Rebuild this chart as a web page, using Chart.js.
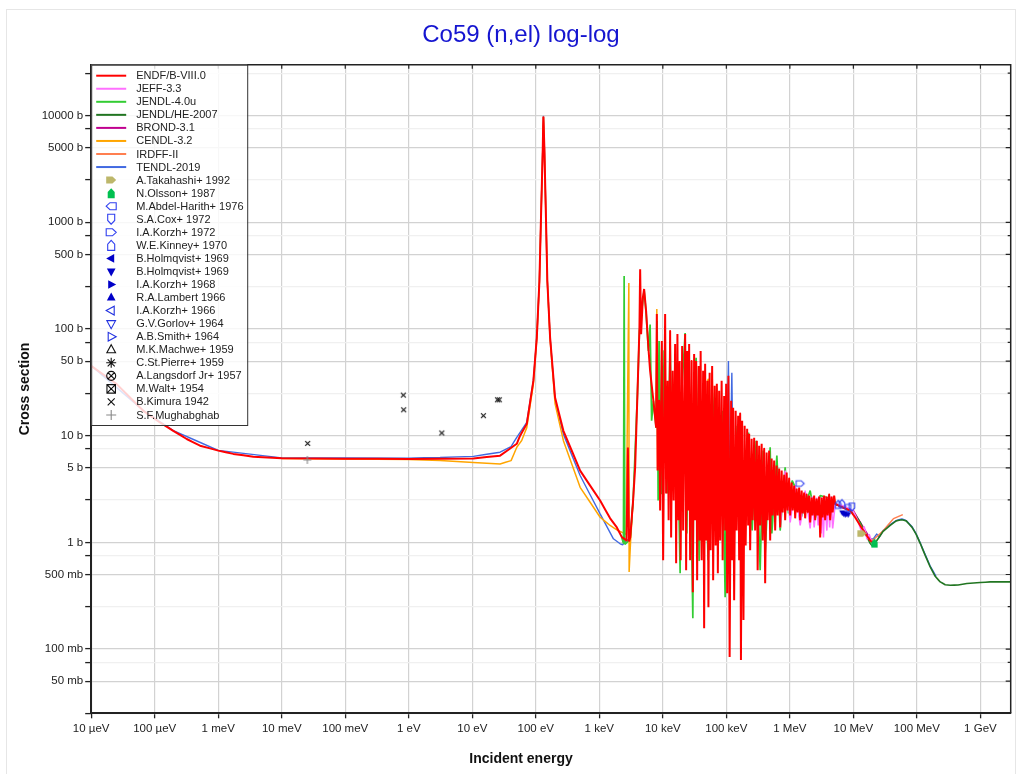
<!DOCTYPE html>
<html lang="en">
<head>
<meta charset="UTF-8" />
<title>Co59 (n,el) log-log</title>
<script src="https://cdn.jsdelivr.net/npm/chart.js@4.4.0/dist/chart.umd.min.js"></script>
<style>
  html, body { margin: 0; padding: 0; background: #fff; }
  canvas { display: block; }
</style>
</head>
<body>
<canvas id="xsChart" width="1020" height="774"></canvas>
<script>
  // axis ticks
  const xTickVals = [1e-5, 1e-4, 1e-3, 1e-2, 1e-1, 1, 10, 100, 1e3, 1e4, 1e5, 1e6, 1e7, 1e8, 1e9];
  const xTickLabels = ['10 µeV', '100 µeV', '1 meV', '10 meV', '100 meV', '1 eV', '10 eV', '100 eV',
    '1 keV', '10 keV', '100 keV', '1 MeV', '10 MeV', '100 MeV', '1 GeV'];
  const yTickVals = [0.025, 0.05, 0.075, 0.1, 0.25, 0.5, 0.75, 1, 2.5, 5, 7.5, 10, 25, 50, 75, 100,
    250, 500, 750, 1000, 2500, 5000, 7500, 10000, 25000];
  const yTickLabels = ['', '50 mb', '', '100 mb', '', '500 mb', '', '1 b', '', '5 b', '', '10 b', '', '50 b', '',
    '100 b', '', '500 b', '', '1000 b', '', '5000 b', '', '10000 b', ''];

  // evaluated libraries (energy in eV, cross section in b)
  const libNames = ['ENDF/B-VIII.0', 'JEFF-3.3', 'JENDL-4.0u', 'JENDL/HE-2007', 'BROND-3.1', 'CENDL-3.2', 'IRDFF-II', 'TENDL-2019'];
  const libColors = ['#ff0000', '#ff70ff', '#33cc33', '#217521', '#c0008f', '#ffa500', '#ff7f50', '#4169e1'];
  const libWidths = [2, 1.6, 1.7, 1.6, 1.5, 1.5, 1.5, 1.4];

  const endfE = [1e-5, 2.52e-5, 6.61e-5, 1.21e-4, 1.96e-4, 3.19e-4, 5.17e-4, 1.0e-3, 1.73e-3, 3.57e-3, 0.01, 0.1, 1, 10.4,
    27.4, 50.2, 56.6, 72.1, 91.6, 103.7, 114, 121, 128.8, 130.5, 131.8, 133.2, 136.5, 145, 152, 168, 201, 272, 499,
    1030, 1480, 1888, 2260, 2692, 2818, 2935, 3070, 3404, 3664, 3985, 4285, 4395, 4550, 4840, 5075, 5455, 5930, 6310,
    7110, 7840,
    8043, 8280, 8745, 9072, 9645, 10110, 10870, 11270, 11900, 12340, 13030, 13510, 14270, 14800, 15620, 16200,
    16980, 17610, 18390, 19070, 20140, 20880, 22450, 23280, 24140, 25030, 25960, 26910, 28410, 29680, 31110, 32260,
    33450, 34690, 36640, 37990, 39390, 40840, 43110, 44710, 46360, 48070, 50400, 52260, 54580, 56600, 59760, 61970,
    65420, 67840, 70870, 73480, 77040, 79880, 84330, 87450, 92340, 95740, 99290, 102950, 107900, 112700, 119000,
    123400, 128000, 132700, 140200, 145300, 153400, 159100, 165000, 169800, 177400, 186000, 194200, 201400, 212600,
    220500, 228700, 237100, 250300, 259600, 274100, 284100, 302200, 311100, 328500, 340700, 359700, 373000, 393900,
    408400, 431100, 447100, 472100, 489600, 516900, 535900, 566000, 586900, 619700, 642600, 678400, 703600, 742900,
    770300, 813400, 843300, 890400, 923300, 974900, 1.011e6, 1.067e6, 1.107e6, 1.169e6, 1.212e6, 1.280e6, 1.327e6,
    1.401e6, 1.453e6, 1.534e6, 1.591e6, 1.680e6, 1.742e6, 1.839e6, 1.907e6, 2.014e6, 2.088e6, 2.205e6, 2.286e6,
    2.414e6, 2.503e6, 2.642e6, 2.740e6, 2.893e6, 3.000e6, 3.168e6, 3.285e6, 3.468e6, 3.596e6, 3.797e6, 3.937e6,
    4.157e6, 4.311e6, 4.551e6, 4.721e6, 4.985e6,
    5.17e6, 6.2e6, 8.9e6, 1.07e7, 1.28e7, 1.54e7, 1.84e7, 2.0e7];
  const endfS = [45.1, 30.4, 17.1, 13.3, 11.1, 9.31, 8.06, 7.24, 6.75, 6.36, 6.13, 6.07, 6.06, 6.1,
    6.5, 8.4, 10.0, 12.9, 32.6, 83, 280, 1170, 4930, 8000, 9800, 8000, 4930, 1015, 280, 83, 22.8, 11.1, 4.7,
    2.47, 1.68, 1.38, 1.12, 1.04, 7.73, 1.02, 1.11, 2.47, 5.02, 24.6, 102, 363, 89.5, 195, 237, 147, 66.3, 40.5,
    21.2, 11.9,
    138, 4.71, 21.2, 1.99, 77.3, 0.679, 138, 2.87, 32.7, 1.61, 95.8, 1.11, 40.5, 2.47, 72.4, 0.637,
    89.8, 1.61, 50.2, 0.679, 69.4, 1.29, 89.8, 0.547, 62.3, 1.99, 72.4, 0.679, 50.2, 0.341, 58.4, 1.61,
    50.2, 0.441, 45.1, 1.04, 62.3, 0.679, 40.5, 0.157, 47.1, 1.04, 32.7, 0.247, 38.8, 0.842, 45.1, 0.441,
    29.3, 0.937, 30.6, 0.513, 26.3, 1.04, 32.7, 0.679, 23.6, 1.29, 30.6, 0.334, 36.4, 0.0842, 21.2,
    0.679, 18.3, 0.287, 17.1, 1.29, 15.4, 0.679, 16.1, 0.0789, 13.8, 0.187, 12.4, 0.937, 11.6,
    1.44, 10.4, 0.842, 9.38, 1.61, 9.58, 1.29, 8.98, 0.547, 8.06, 1.44, 8.42, 1.04, 7.56,
    0.414, 6.94, 1.61, 7.24, 1.04, 6.10, 1.79, 5.84, 1.29, 5.24, 1.79, 4.92, 1.38, 4.71,
    1.91, 4.23, 1.61, 4.51, 1.99, 3.96, 1.79, 3.64, 1.99, 3.41, 1.68, 3.20, 1.91,
    3.27, 1.61, 3.06, 1.87, 2.93, 1.68, 2.81, 1.91, 2.75, 1.54, 2.63, 1.79,
    2.75, 1.61, 2.58, 1.79, 2.69, 1.11, 2.63, 1.71, 2.75, 1.61, 2.69, 1.79,
    2.81, 1.61, 2.69, 1.91, 2.75,
    2.3, 2.17, 1.99, 1.71, 1.44, 1.21, 1.04, 1.0];

  const jeffE = [703600, 843300, 1.011e6, 1.212e6, 1.453e6, 1.742e6, 2.088e6, 2.245e6, 2.414e6, 2.642e6, 2.791e6,
    2.893e6, 3.111e6, 3.227e6, 3.382e6, 3.532e6, 3.824e6, 4.011e6, 4.235e6, 4.472e6, 4.721e6, 5.17e6, 7.44e6, 1.0e7,
    1.19e7, 1.376e7, 1.479e7, 1.649e7, 1.774e7, 1.97e7, 2.0e7];
  const jeffS = [1.38, 4.71, 1.54, 3.41, 1.44, 3.06, 1.35, 2.69, 1.38, 2.63, 1.44,
    2.69, 1.21, 2.63, 1.11, 2.69, 1.29, 2.63, 1.38, 2.69, 1.35, 2.3, 2.17, 1.95,
    1.57, 1.21, 1.41, 1.07, 1.19, 0.98, 0.96];

  const jendlE = [2260, 2399, 2460, 2522, 2741, 3070, 3404, 3985, 4285, 4840, 5075, 5455, 5930, 6310, 6660, 7110,
    7840, 8134, 8433, 8745, 9645, 10480, 11810, 13030, 14010, 16200, 18730, 19420, 22450, 23880, 25960, 29680,
    31110, 33450, 37300, 43110, 51700, 59760, 74300, 85900, 95740, 102950, 123400, 148000, 171000, 222900, 254900,
    294600, 340700, 379800, 408400, 489600, 520600, 624400, 703600, 843300, 950400, 1.087e6, 1.212e6, 1.453e6,
    2.088e6, 2.503e6, 3.0e6, 4.311e6, 5.17e6, 1.0e7, 1.59e7, 1.97e7, 2.0e7];
  const jendlS = [1.11, 0.978, 313, 0.958, 1.0, 1.11, 2.47, 24.6, 95.8, 183, 230, 141, 62.3, 110, 13.8, 21.2,
    11.9, 119, 2.47, 77.3, 2.87, 62.3, 2.87, 77.3, 4.71, 50.2, 0.513, 21.2, 91.8, 1.21, 32.7, 0.195,
    32.7, 53.6, 0.679, 21.2, 0.679, 26.3, 3.80, 17.1, 0.306, 13.8, 1.04, 12.4, 0.679, 10.7, 1.29,
    8.98, 0.547, 7.24, 0.789, 7.78, 1.21, 6.50, 1.29, 5.06, 1.87, 3.80, 3.29, 1.61,
    3.06, 1.68, 2.75, 2.58, 2.3, 1.91, 1.19, 0.96, 0.94];

  const jendlHeE = [5.17e6, 6.2e6, 1.0e7, 1.281e7, 1.59e7, 1.84e7, 1.97e7, 2.34e7, 2.94e7, 3.8e7, 4.72e7, 5.8e7,
    6.78e7, 8.34e7, 9.75e7, 1.128e8, 1.352e8, 1.621e8, 1.943e8, 2.33e8, 2.79e8, 3.35e8, 4.46e8, 6.12e8, 9.94e8,
    1.43e9, 3.0e9];
  const jendlHeS = [2.25, 2.22, 1.91, 1.54, 1.16, 0.98, 0.93, 1.04, 1.27, 1.44, 1.59, 1.63,
    1.59, 1.39, 1.19, 0.98, 0.756, 0.588, 0.481, 0.426, 0.401, 0.397, 0.398, 0.411, 0.420,
    0.426, 0.426];

  const brondE = [5.17e6, 1.0e7, 2.0e7];
  const brondS = [2.3, 1.97, 1.0];

  const cendlE = [0.01, 0.1, 1, 3.11, 10.4, 27.4, 40.8, 50.2, 60, 72.1, 91.6, 103.7, 114, 121, 128.8, 131.8, 136.5,
    145, 152, 168, 201, 272, 499, 1030, 1480, 1978, 2642, 2917, 2947, 3111, 3404, 3500,
    7840, 8043, 8280, 8500,
    50400, 52260, 54580, 59760, 65420, 70870, 73480];
  const cendlS = [6.12, 6.05, 5.98, 5.84, 5.62, 5.43, 5.84, 7.79, 9.0, 11.9, 30.4, 82, 278, 1160, 4900, 9700, 4900,
    1000, 275, 80, 20, 8.98, 3.28, 1.72, 1.44, 1.29, 1.19, 270, 0.527, 1.04, 2.47, null,
    11.9, 154, 4.71, null,
    32.7, 34.1, 2.0, 40, 3.0, 28.1, 1.5];

  const irdffE = [1.0e7, 1.59e7, 2.0e7, 2.98e7, 4.28e7, 6.0e7];
  const irdffS = [1.99, 1.2, 1.04, 1.29, 1.67, 1.82];

  const tendlE = [1e-5, 6.61e-5, 1.96e-4, 1.0e-3, 0.01, 1, 3.11, 10.4, 27.4, 40.8, 50.2, 72.1, 91.6, 103.7, 114, 121,
    128.8, 131.8, 136.5, 145, 152, 168, 201, 272, 499, 1030, 1667, 2128, 2330, 2600, 3070, 3404, 3500,
    92340, 102950, 107900, 112700, 122100, 128000, 130000,
    5.17e6, 6.2e6, 8.9e6, 1.07e7, 1.28e7, 1.54e7, 1.84e7, 2.06e7, 2.34e7, 2.55e7, 2.94e7, 3.8e7, 4.72e7, 5.8e7,
    6.78e7, 8.34e7, 9.75e7, 1.128e8, 1.352e8, 1.621e8, 2.0e8];
  const tendlS = [45.3, 17.2, 11.15, 7.28, 6.2, 6.16, 6.25, 6.4, 7.0, 7.9, 9.65, 13.3, 33, 84, 282, 1180,
    4950, 9800, 4950, 1020, 280, 83, 22, 10.3, 4.23, 1.85, 1.08, 0.97, 0.95, 1.02, 1.11, 2.47, null,
    5.84, 8.98, 50.2, 2.47, 38.8, 3.80, null,
    2.3, 2.17, 2.02, 1.75, 1.47, 1.25, 1.07, 1.08, 1.2, 1.12, 1.29, 1.47, 1.6, 1.66,
    1.6, 1.41, 1.2, 0.99, 0.77, 0.6, 0.48];

  // experimental data
  const expNames = ['A.Takahashi+ 1992', 'N.Olsson+ 1987', 'M.Abdel-Harith+ 1976', 'S.A.Cox+ 1972', 'I.A.Korzh+ 1972',
    'W.E.Kinney+ 1970', 'B.Holmqvist+ 1969', 'B.Holmqvist+ 1969', 'I.A.Korzh+ 1968', 'R.A.Lambert 1966',
    'I.A.Korzh+ 1966', 'G.V.Gorlov+ 1964', 'A.B.Smith+ 1964', 'M.K.Machwe+ 1959', 'C.St.Pierre+ 1959',
    'A.Langsdorf Jr+ 1957', 'M.Walt+ 1954', 'B.Kimura 1942', 'S.F.Mughabghab'];
  const expShapes = ['pentR', 'pentU', 'pentL', 'pentD', 'pentR', 'pentU', 'triL', 'triD', 'triR', 'triU',
    'triL', 'triD', 'triR', 'triU', 'star', 'circX', 'sqX', 'x', 'plus'];
  const expFilled = [true, true, false, false, false, false, true, true, true, true,
    false, false, false, false, false, false, false, false, false];
  const expColors = ['#bdb76b', '#00c050', '#3040f0', '#3040f0', '#3040f0', '#3040f0', '#0000c8', '#0000c8', '#0000c8',
    '#0000c8', '#2030e0', '#2030e0', '#2030e0', '#111111', '#111111', '#111111', '#111111', '#111111', '#888888'];

  const takahashiE = [1.36e7];
  const takahashiS = [1.21];
  const olssonE = [2.15e7];
  const olssonS = [0.985];
  const coxE = [8.28e6, 9.47e6];
  const coxS = [2.08, 2.14];
  const korzh72E = [1.454e6];
  const korzh72S = [3.56];
  const kinneyE = [5.77e6, 6.59e6];
  const kinneyS = [2.27, 2.31];
  const holmqvistE = [6.67e6, 7.05e6, 7.44e6, 7.85e6, 8.28e6];
  const holmqvistS = [1.91, 1.86, 1.83, 1.86, 1.83];
  const kimuraE = [0.0256, 0.822, 0.83, 3.31, 14.96, 25.0, 26.6];
  const kimuraS = [8.47, 24.0, 17.5, 10.6, 15.4, 21.7, 21.7];
  const mughabE = [0.0253];
  const mughabS = [5.93];

  const FONT = '"Liberation Sans", Arial, Helvetica, sans-serif';

  function series(es, ss) {
    return es.map((e, i) => ({ x: e, y: ss[i] }));
  }

  function drawMarker(ctx, shape, filled, color, x, y, r) {
    ctx.save();
    ctx.translate(x, y);
    ctx.strokeStyle = color;
    ctx.fillStyle = color;
    ctx.lineWidth = 1.1;
    const kind = shape.slice(0, 4);
    const rot = { U: 0, R: 90, D: 180, L: 270 }[shape.slice(-1)] || 0;
    ctx.beginPath();
    if (kind === 'pent') {
      ctx.rotate(rot * Math.PI / 180);
      ctx.moveTo(0, -r);
      ctx.lineTo(0.7 * r, -0.25 * r);
      ctx.lineTo(0.7 * r, r);
      ctx.lineTo(-0.7 * r, r);
      ctx.lineTo(-0.7 * r, -0.25 * r);
      ctx.closePath();
    } else if (kind === 'triU' || kind === 'triD' || kind === 'triL' || kind === 'triR') {
      ctx.rotate(rot * Math.PI / 180);
      ctx.moveTo(0, -r);
      ctx.lineTo(0.87 * r, 0.6 * r);
      ctx.lineTo(-0.87 * r, 0.6 * r);
      ctx.closePath();
    } else if (shape === 'star') {
      for (let k = 0; k < 4; k++) {
        const a = k * Math.PI / 4;
        ctx.moveTo(Math.cos(a) * r, Math.sin(a) * r);
        ctx.lineTo(-Math.cos(a) * r, -Math.sin(a) * r);
      }
    } else if (shape === 'circX') {
      ctx.arc(0, 0, r * 0.9, 0, Math.PI * 2);
      const d = r * 0.62;
      ctx.moveTo(-d, -d); ctx.lineTo(d, d);
      ctx.moveTo(-d, d); ctx.lineTo(d, -d);
    } else if (shape === 'sqX') {
      const d = r * 0.85;
      ctx.rect(-d, -d, 2 * d, 2 * d);
      ctx.moveTo(-d, -d); ctx.lineTo(d, d);
      ctx.moveTo(-d, d); ctx.lineTo(d, -d);
    } else if (shape === 'x') {
      const d = r * 0.7;
      ctx.moveTo(-d, -d); ctx.lineTo(d, d);
      ctx.moveTo(-d, d); ctx.lineTo(d, -d);
    } else if (shape === 'plus') {
      ctx.moveTo(-r, 0); ctx.lineTo(r, 0);
      ctx.moveTo(0, -r); ctx.lineTo(0, r);
    }
    if (filled) ctx.fill(); else ctx.stroke();
    ctx.restore();
  }

  function markerCanvas(k, r) {
    const c = document.createElement('canvas');
    const s = Math.ceil(2 * r + 4);
    c.width = s; c.height = s;
    drawMarker(c.getContext('2d'), expShapes[k], expFilled[k], expColors[k], s / 2, s / 2, r);
    return c;
  }

  // a tiny tension keeps Chart.js off its pixel-merging fast path, so every resonance point is drawn
  function lineSet(i, es, ss) {
    return {
      label: libNames[i], data: series(es, ss), borderColor: libColors[i], backgroundColor: libColors[i],
      borderWidth: libWidths[i], pointRadius: 0, tension: 0.0001, fill: false, borderJoinStyle: 'bevel',
      spanGaps: false, order: i + 1
    };
  }

  function expSet(k, es, ss, r) {
    return {
      label: expNames[k], data: series(es, ss), showLine: false, pointStyle: markerCanvas(k, r),
      pointRadius: 4, order: 0
    };
  }

  // legend, frame and texts drawn on top of the chart
  const decorations = {
    id: 'decorations',
    beforeDraw(chart) {
      const ctx = chart.ctx;
      ctx.save();
      ctx.fillStyle = '#fff';
      ctx.fillRect(0, 0, chart.width, chart.height);
      ctx.strokeStyle = '#e6e6e6';
      ctx.lineWidth = 1;
      ctx.strokeRect(6.5, 9.5, 1009, 800);
      ctx.restore();
    },
    afterDatasetsDraw(chart) {
      const ctx = chart.ctx, a = chart.chartArea;
      const xs = chart.scales.x, ys = chart.scales.y;
      ctx.save();
      // top and right frame with inward ticks
      ctx.strokeStyle = '#222';
      ctx.lineWidth = 1.5;
      ctx.beginPath();
      ctx.moveTo(a.left, a.top); ctx.lineTo(a.right, a.top); ctx.lineTo(a.right, a.bottom);
      ctx.stroke();
      ctx.lineWidth = 1.2;
      ctx.beginPath();
      xTickVals.forEach(v => {
        const px = xs.getPixelForValue(v);
        ctx.moveTo(px, a.top); ctx.lineTo(px, a.top + 4);
      });
      yTickVals.forEach((v, i) => {
        const py = ys.getPixelForValue(v);
        ctx.moveTo(a.right, py); ctx.lineTo(a.right - (yTickLabels[i] ? 5 : 3), py);
      });
      ctx.stroke();

      // legend box
      const lx = a.left, ly = a.top, lw = 156, lh = 360.3;
      ctx.fillStyle = 'rgba(255,255,255,0.82)';
      ctx.fillRect(lx, ly, lw, lh);
      ctx.strokeStyle = '#333';
      ctx.lineWidth = 1;
      ctx.strokeRect(lx + 0.5, ly + 0.5, lw, lh);
      ctx.font = '11px ' + FONT;
      ctx.textBaseline = 'middle';
      ctx.textAlign = 'left';
      let y = ly + 11;
      libNames.forEach((n, i) => {
        ctx.strokeStyle = libColors[i];
        ctx.lineWidth = 2;
        ctx.beginPath();
        ctx.moveTo(lx + 5, y); ctx.lineTo(lx + 35, y);
        ctx.stroke();
        ctx.fillStyle = '#222';
        ctx.fillText(n, lx + 45, y + 0.5);
        y += 13.05;
      });
      expNames.forEach((n, k) => {
        drawMarker(ctx, expShapes[k], expFilled[k], expColors[k], lx + 20, y, 5);
        ctx.fillStyle = '#222';
        ctx.fillText(n, lx + 45, y + 0.5);
        y += 13.05;
      });
      ctx.restore();
    },
    afterDraw(chart) {
      const ctx = chart.ctx;
      ctx.save();
      ctx.fillStyle = '#1515d0';
      ctx.font = '24px ' + FONT;
      ctx.textAlign = 'center';
      ctx.textBaseline = 'middle';
      ctx.fillText('Co59 (n,el) log-log', 521, 35);
      ctx.fillStyle = '#111';
      ctx.font = 'bold 14px ' + FONT;
      ctx.fillText('Incident energy', 521, 759);
      ctx.translate(25, 389);
      ctx.rotate(-Math.PI / 2);
      ctx.fillText('Cross section', 0, 0);
      ctx.restore();
    }
  };

  const datasets = [
    expSet(0, takahashiE, takahashiS, 4.5),
    expSet(1, olssonE, olssonS, 4.5),
    expSet(3, coxE, coxS, 4),
    expSet(4, korzh72E, korzh72S, 4),
    expSet(5, kinneyE, kinneyS, 4),
    expSet(7, holmqvistE, holmqvistS, 3.5),
    expSet(17, kimuraE, kimuraS, 3.5),
    expSet(18, mughabE, mughabS, 4),
    lineSet(0, endfE, endfS),
    lineSet(1, jeffE, jeffS),
    lineSet(2, jendlE, jendlS),
    lineSet(3, jendlHeE, jendlHeS),
    lineSet(4, brondE, brondS),
    lineSet(5, cendlE, cendlS),
    lineSet(6, irdffE, irdffS),
    lineSet(7, tendlE, tendlS)
  ];

  new Chart(document.getElementById('xsChart'), {
    type: 'line',
    data: { datasets: datasets },
    options: {
      responsive: false,
      animation: false,
      devicePixelRatio: 1,
      events: [],
      layout: { padding: { left: 0, right: 9.3, top: 64.7, bottom: 0 } },
      plugins: {
        legend: { display: false },
        title: { display: false },
        tooltip: { enabled: false }
      },
      scales: {
        x: {
          type: 'logarithmic',
          min: 1e-5,
          max: 3e9,
          afterBuildTicks: s => { s.ticks = xTickVals.map(v => ({ value: v })); },
          afterFit: s => { s.height = 60.7; s.paddingLeft = 0; s.paddingRight = 0; },
          ticks: {
            autoSkip: false, maxRotation: 0, minRotation: 0, padding: 4, color: '#222',
            font: { family: FONT, size: 11.5 },
            callback: (v, i) => xTickLabels[i]
          },
          grid: { color: '#d2d2d2', lineWidth: 1.2, tickLength: 5, tickColor: '#222', tickWidth: 1.3 },
          border: { color: '#222', width: 2 }
        },
        y: {
          type: 'logarithmic',
          min: 0.025,
          max: 30000,
          afterBuildTicks: s => { s.ticks = yTickVals.map(v => ({ value: v })); },
          afterFit: s => { s.width = 91.2; s.paddingTop = 0; s.paddingBottom = 0; },
          ticks: {
            autoSkip: false, padding: 2, color: '#222',
            font: { family: FONT, size: 11.5 },
            callback: (v, i) => yTickLabels[i]
          },
          grid: {
            color: c => (yTickLabels[c.index] ? '#d2d2d2' : '#f0f0f0'),
            lineWidth: 1.2, tickLength: 6, tickColor: '#222', tickWidth: 1.3
          },
          border: { color: '#222', width: 2 }
        }
      }
    },
    plugins: [decorations]
  });
</script>
</body>
</html>
